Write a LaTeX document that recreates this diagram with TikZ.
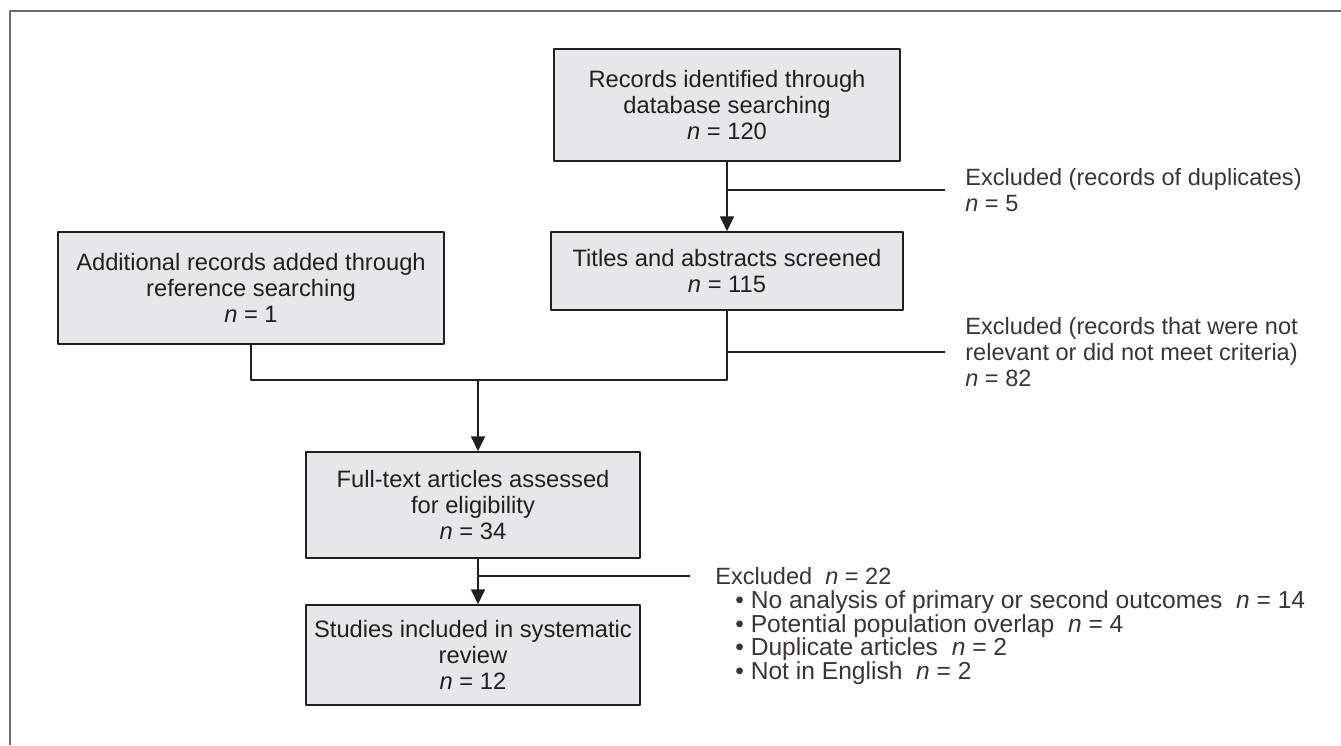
\documentclass[tikz,border=0pt]{standalone}
\usepackage{fontspec}
\setmainfont{Liberation Sans}
\usetikzlibrary{arrows.meta,positioning}
\definecolor{boxgray}{HTML}{E6E7E8}
\definecolor{framegray}{HTML}{6D6E70}
\definecolor{inkgray}{HTML}{231F20}
\begin{document}
\begin{tikzpicture}[x=0.02cm, y=-0.02cm, font=\fontsize{13.5}{14.7}\selectfont, line join=round, >={Triangle[width=8pt,length=8.5pt]},
	box/.style={draw=inkgray, line width=0.9pt, fill=boxgray, text=inkgray, align=center, inner sep=0pt},
	excl/.style={font=\fontsize{13.4}{14.7}\selectfont, text=inkgray!90, align=left, anchor=west, inner ysep=0pt, inner xsep=0.4cm},
	link/.style={draw=inkgray, line width=0.8pt}]
	\useasboundingbox (0,0) rectangle (1341,745);
	\draw[framegray, line width=1.2pt] (10,745) -- (10,11) -- (1341,11);
	% boxes
	\node[box, minimum width=6.92cm, minimum height=2.24cm] (ident) at (727,105) {Records identified through\\database searching\\\textit{n} = 120};
	\node[box, minimum width=7.04cm, minimum height=1.56cm] (screen) at (727,271) {Titles and abstracts screened\\\textit{n} = 115};
	\node[box, minimum width=7.72cm, minimum height=2.24cm] (added) at (251,288) {Additional records added through\\reference searching\\\textit{n} = 1};
	\node[box, minimum width=6.68cm, minimum height=2.12cm] (full) at (473,505) {Full-text articles assessed\\for eligibility\\\textit{n} = 34};
	\node[box, minimum width=6.68cm, minimum height=2.0cm] (incl) at (473,655) {Studies included in systematic\\review\\\textit{n} = 12};
	% exclusions
	\node[excl] (dup) at (945,190) {Excluded (records of duplicates)\\\textit{n} = 5};
	\node[excl] (irrel) at (945,352) {Excluded (records that were not\\relevant or did not meet criteria)\\\textit{n} = 82};
	\node[excl, inner xsep=0.5cm] (ftx) at (690,576) {Excluded~~\textit{n} = 22};
	\node[excl, font=\fontsize{14}{13.6}\selectfont, anchor=north west, inner xsep=0pt, below right=0.1cm and 0.9cm of ftx.south west] (ftxlist)
		{\textbullet\ No analysis of primary or second outcomes~~\textit{n} = 14\\
		\textbullet\ Potential population overlap~~\textit{n} = 4\\
		\textbullet\ Duplicate articles~~\textit{n} = 2\\
		\textbullet\ Not in English~~\textit{n} = 2};
	% connectors
	\coordinate (sp) at (727,0);
	\coordinate (j) at (478,380);
	\draw[link,->] (ident.south -| sp) -- (screen.north -| sp);
	\draw[link] (dup.west -| sp) -- (dup.west);
	\draw[link] (irrel.west -| sp) -- (irrel.west);
	\draw[link] (added.south) |- (j) -| (screen.south -| sp);
	\draw[link,->] (j) -- (full.north -| j);
	\draw[link,->] (full.south -| j) -- (incl.north -| j);
	\draw[link] (ftx.west -| j) -- (ftx.west);
\end{tikzpicture}
\end{document}
